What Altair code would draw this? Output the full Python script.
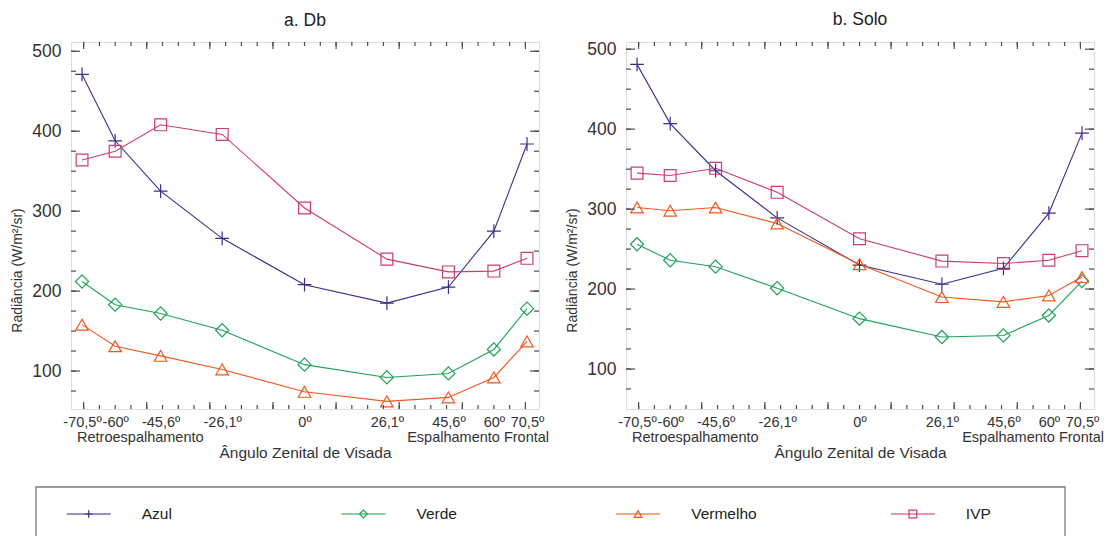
import altair as alt
import pandas as pd

# ---------------- data ----------------
angles = [-70.5, -60, -45.6, -26.1, 0, 26.1, 45.6, 60, 70.5]
angle_labels = ["-70,5º", "-60º", "-45,6º", "-26,1º", "0º", "26,1º", "45,6º", "60º", "70,5º"]
series = ["Azul", "Verde", "Vermelho", "IVP"]
colors = ["#3b2e8a", "#1fa35b", "#f2581f", "#cc3c72"]

db_azul = [471, 388, 325, 266, 208, 185, 205, 275, 384]
db_verde = [212, 183, 172, 151, 108, 92, 97, 127, 178]
db_vermelho = [158, 131, 119, 102, 74, 62, 67, 92, 137]
db_ivp = [364, 375, 408, 396, 304, 240, 224, 225, 241]

solo_azul = [481, 407, 348, 289, 230, 206, 226, 295, 395]
solo_verde = [256, 236, 228, 201, 163, 140, 142, 167, 210]
solo_vermelho = [302, 298, 302, 282, 231, 190, 184, 192, 215]
solo_ivp = [345, 342, 351, 321, 263, 235, 232, 236, 248]

y_labels = [100, 200, 300, 400, 500]
x_minor_ticks = list(range(-70, 71, 5))
x_major_ticks = list(range(-70, 71, 20))
y_minor_ticks = list(range(75, 501, 25))
y_major_ticks = [100, 200, 300, 400, 500]

side_labels = ["Retroespalhamento", "Espalhamento Frontal"]
side_anchor = [-70.5, 70.5]

# ---------------- style ----------------
FONT = "Liberation Sans"
W, H = 468, 367
TICK = "#4d4d4d"
cross = "M-1,0L1,0M0,-1L0,1"
shapes = [cross, "diamond", "triangle-up", "square"]
sizes = [190, 140, 170, 170]
leg_sizes = [60, 60, 45, 45]

label_expr = "".join(
    f"datum.value == {a} ? '{l}' : " for a, l in zip(angles, angle_labels)
) + "''"


def panel(title, data, ydom):
    rows = []
    for s, vals in zip(series, data):
        for a, v in zip(angles, vals):
            rows.append({"serie": s, "angle": a, "value": v})
    df = pd.DataFrame(rows)

    xs = alt.Scale(domain=[-74, 74.3], nice=False, zero=False)
    ys = alt.Scale(domain=ydom, nice=False, zero=False)
    xaxis = alt.Axis(
        values=angles, labelExpr=label_expr, ticks=False, domain=False, grid=False,
        labelOverlap=False, labelFlush=False, labelFontSize=14.5, labelPadding=6,
        labelColor="#333333", labelFont=FONT,
        title="Ângulo Zenital de Visada", titleFontSize=15.5, titleFontWeight="normal",
        titleColor="#333333", titleFont=FONT, titlePadding=17,
    )
    yaxis = alt.Axis(
        values=y_labels, ticks=False, domain=False, grid=False,
        labelFontSize=17.5, labelPadding=10, labelColor="#333333", labelFont=FONT,
        title="Radiância (W/m²/sr)", titleFontSize=14, titleFontWeight="normal",
        titleColor="#333333", titleFont=FONT, titlePadding=7, titleY=228,
    )
    X = alt.X("angle:Q", scale=xs, axis=xaxis)
    Y = alt.Y("value:Q", scale=ys, axis=yaxis)
    color = alt.Color("serie:N", scale=alt.Scale(domain=series, range=colors), legend=None)

    base = alt.Chart(df)
    lines = base.mark_line(strokeWidth=1.1).encode(x=X, y=Y, color=color)
    points = base.mark_point(filled=False, strokeWidth=1.2, opacity=1).encode(
        x=X, y=Y, color=color,
        shape=alt.Shape("serie:N", scale=alt.Scale(domain=series, range=shapes), legend=None),
        size=alt.Size("serie:O", scale=alt.Scale(domain=series, range=sizes), legend=None),
    )

    xmin = alt.Chart(pd.DataFrame({"angle": x_minor_ticks}))
    xmaj = alt.Chart(pd.DataFrame({"angle": x_major_ticks}))
    ymin = alt.Chart(pd.DataFrame({"value": y_minor_ticks}))
    ymaj = alt.Chart(pd.DataFrame({"value": y_major_ticks}))
    rule = dict(color=TICK, strokeWidth=1.2)
    ticks = [
        xmin.mark_rule(**rule).encode(x=X, y=alt.value(0), y2=alt.value(4)),
        xmin.mark_rule(**rule).encode(x=X, y=alt.value(H), y2=alt.value(H - 4)),
        xmaj.mark_rule(**rule).encode(x=X, y=alt.value(0), y2=alt.value(7)),
        xmaj.mark_rule(**rule).encode(x=X, y=alt.value(H), y2=alt.value(H - 7)),
        ymin.mark_rule(**rule).encode(y=Y, x=alt.value(0), x2=alt.value(5)),
        ymin.mark_rule(**rule).encode(y=Y, x=alt.value(W), x2=alt.value(W - 5)),
        ymaj.mark_rule(**rule).encode(y=Y, x=alt.value(0), x2=alt.value(9)),
        ymaj.mark_rule(**rule).encode(y=Y, x=alt.value(W), x2=alt.value(W - 9)),
    ]

    side = pd.DataFrame({"angle": side_anchor, "txt": side_labels})
    left_txt = alt.Chart(side.iloc[[0]]).mark_text(
        align="left", dx=-5, fontSize=14.5, color="#333333", font=FONT, baseline="middle"
    ).encode(x=X, y=alt.value(H + 29), text="txt:N")
    right_txt = alt.Chart(side.iloc[[1]]).mark_text(
        align="right", dx=22, fontSize=14.5, color="#333333", font=FONT, baseline="middle"
    ).encode(x=X, y=alt.value(H + 29), text="txt:N")

    return alt.layer(lines, points, *ticks, left_txt, right_txt).properties(
        width=W, height=H,
        title=alt.TitleParams(title, fontSize=17.5, fontWeight="normal", color="#222222",
                              font=FONT, offset=12),
    )


left = panel("a. Db", [db_azul, db_verde, db_vermelho, db_ivp], [52.5, 511.6])
right = panel("b. Solo", [solo_azul, solo_verde, solo_vermelho, solo_ivp], [50, 509])

# ---------------- legend ----------------
leg_df = pd.DataFrame({"serie": series})
LW, LH = 994, 54
LX = alt.X("serie:N", scale=alt.Scale(domain=series, range=[-119.6, 979.2], padding=0),
           axis=None)
lcolor = alt.Color("serie:N", scale=alt.Scale(domain=series, range=colors), legend=None)
lbase = alt.Chart(leg_df)
leg_box = alt.Chart(leg_df.iloc[[0]]).mark_rect(
    fill="white", fillOpacity=0, stroke="#7a7a7a", strokeWidth=1.3
).encode(x=alt.value(-35), x2=alt.value(LW), y=alt.value(0), y2=alt.value(LH + 8))
leg_line = lbase.mark_rule(xOffset=-22, x2Offset=22, strokeWidth=1.6, opacity=0.7).encode(
    x=LX, x2=alt.X2("serie:N"), y=alt.value(27), color=lcolor
)
leg_pt = lbase.mark_point(filled=False, strokeWidth=1.2, opacity=1).encode(
    x=LX, y=alt.value(27), color=lcolor,
    shape=alt.Shape("serie:N", scale=alt.Scale(domain=series, range=shapes), legend=None),
    size=alt.Size("serie:O", scale=alt.Scale(domain=series, range=leg_sizes), legend=None),
)
leg_txt = lbase.mark_text(align="left", dx=53, fontSize=15.5, color="#222222", font=FONT,
                          baseline="middle").encode(x=LX, y=alt.value(27), text="serie:N")
legend = alt.layer(leg_box, leg_line, leg_pt, leg_txt).properties(
    width=LW, height=LH, view=alt.ViewBackground(strokeOpacity=0)
)

top = alt.hconcat(left, right, spacing=15).resolve_scale(
    x="independent", y="independent", color="shared", shape="shared"
)
chart = alt.vconcat(top, legend, spacing=24).resolve_scale(
    color="shared", shape="independent", size="independent"
).properties(
    padding={"left": 2, "top": 2, "right": 0, "bottom": 0}
).configure_view(stroke="#8a8a8a", strokeWidth=1.2).configure(font=FONT)

chart.save("out.html", embed_options={"renderer": "svg", "actions": False})
